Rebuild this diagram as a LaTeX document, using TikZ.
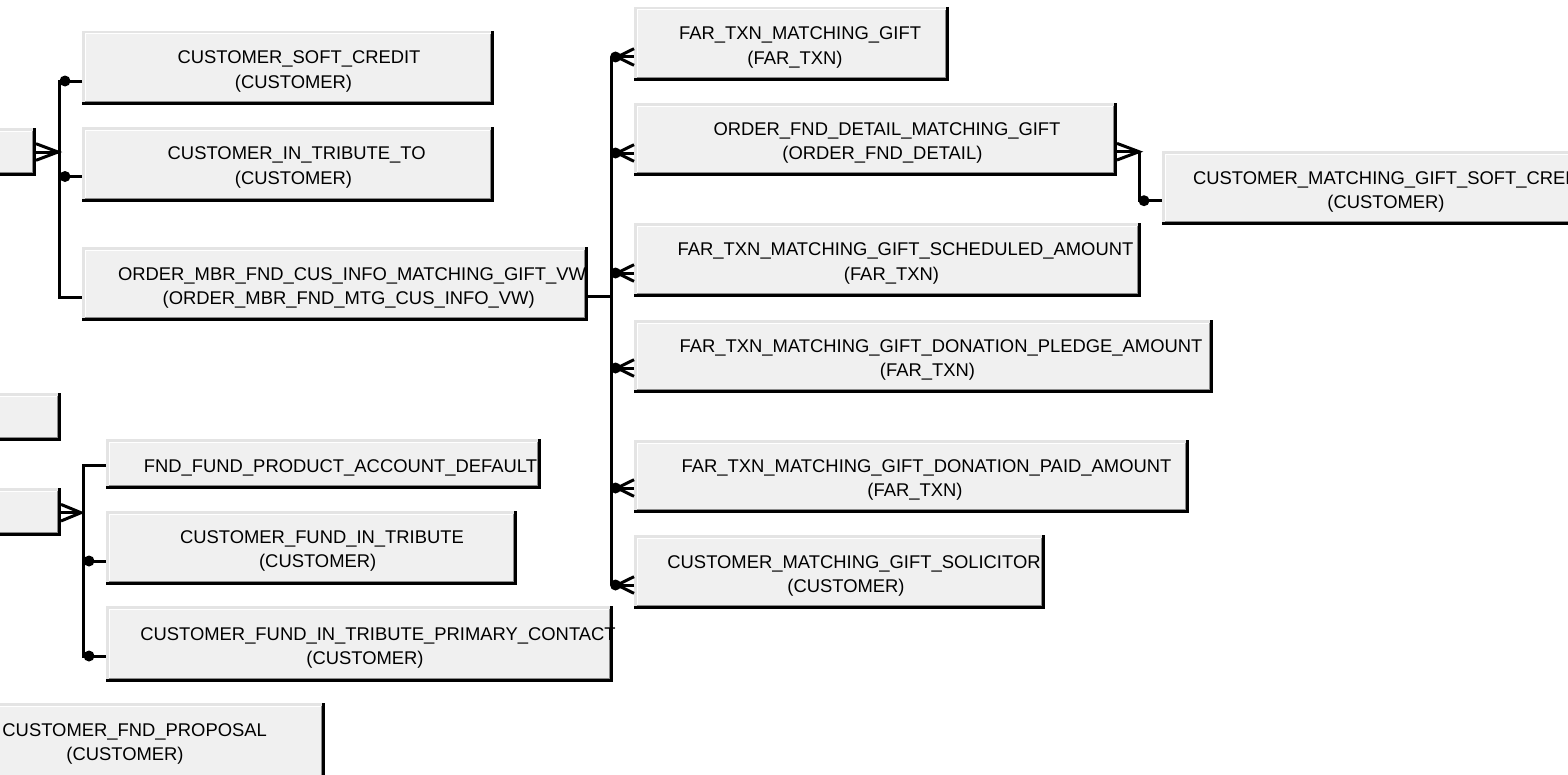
\documentclass[tikz,border=0pt]{standalone}
\usepackage{fontspec}
\setmainfont{Liberation Sans}
\usetikzlibrary{fit}
\definecolor{boxfill}{HTML}{F0F0F0}
\definecolor{boxhl}{HTML}{E4E4E4}
\definecolor{boxsh}{HTML}{8C8C8C}
\tikzset{
 erbox/.style={rectangle, inner sep=0pt, outer sep=0pt, fill=boxfill, draw=none},
 hlline/.style={draw=boxhl, line width=2.5bp},
 whline/.style={draw=white, line width=1bp},
 shline/.style={draw=black, line width=2.6bp},
 shinner/.style={draw=boxsh, line width=1bp},
 lbl/.style={anchor=base, inner sep=0pt, outer sep=0pt, font=\fontsize{18.4bp}{24bp}\selectfont},
 lblw/.style={lbl, anchor=base west},
 conn/.style={draw=black, line width=3bp},
 dotc/.style={fill=black},
}
\newcommand\erentity[5]{%
 \node[erbox, fit={(#2,#3) (#4,#5)}] (#1) {};
 \draw[hlline] ([xshift=1.25bp]#1.south west) -- ([xshift=1.25bp,yshift=-1.25bp]#1.north west) -- ([yshift=-1.25bp]#1.north east);
 \draw[whline] ([xshift=3bp]#1.south west) -- ([xshift=3bp,yshift=-3bp]#1.north west) -- ([yshift=-3bp,xshift=-3bp]#1.north east);
 \draw[shinner] ([xshift=-3.2bp,yshift=-3bp]#1.north east) -- ([xshift=-3.2bp,yshift=3.2bp]#1.south east) -- ([xshift=3bp,yshift=3.2bp]#1.south west);
 \draw[shline] ([xshift=-1.3bp]#1.north east) -- ([xshift=-1.3bp,yshift=1.3bp]#1.south east) -- ([yshift=1.3bp]#1.south west);
}
\newcommand\crowfoot[2]{%
 \draw[conn] ([yshift=8.3bp]#1) -- (#2) -- ([yshift=-8.3bp]#1);
 \draw[conn] (#1) -- (#2);
}
\begin{document}
\begin{tikzpicture}[x=1bp,y=-1bp]
\useasboundingbox (0,0) rectangle (1568,775);
\clip (0,0) rectangle (1568,775);
\fill[white] (0,0) rectangle (1568,775);

% entities
\erentity{A}{-100}{128}{36}{176}
\erentity{B}{-100}{393}{61}{441}
\erentity{C}{-100}{488}{61}{536}
\erentity{SC}{82}{31}{494}{105}
\erentity{IT}{82}{127}{494}{202}
\erentity{OM}{82}{247}{588}{321}
\erentity{FTa}{634}{7}{949}{81}
\erentity{OFD}{634}{103}{1117}{176}
\erentity{CMGSC}{1162}{151}{1620}{225}
\erentity{FTb}{634}{223}{1141}{297}
\erentity{FTc}{634}{320}{1213}{393}
\erentity{FTd}{634}{440}{1189}{513}
\erentity{CMGS}{634}{535}{1045}{609}
\erentity{FFPAD}{106}{439}{541}{489}
\erentity{CFIT}{106}{511}{517}{585}
\erentity{CFITPC}{106}{606}{613}{682}
\erentity{CFP}{-80}{703}{325}{800}

% labels
\node[lbl] (SCa) at (299,63.9) {CUSTOMER\_SOFT\_CREDIT};
\node[lbl] (SCb) at (293.5,88.2) {(CUSTOMER)};
\node[lbl] (ITa) at (296.7,159.9) {CUSTOMER\_IN\_TRIBUTE\_TO};
\node[lbl] (ITb) at (293.5,184.2) {(CUSTOMER)};
\node[lbl] (OMa) at (352,280.6) {ORDER\_MBR\_FND\_CUS\_INFO\_MATCHING\_GIFT\_VW};
\node[lbl] (OMb) at (348.7,304.9) {(ORDER\_MBR\_FND\_MTG\_CUS\_INFO\_VW)};
\node[lbl] (FTaa) at (800,39.9) {FAR\_TXN\_MATCHING\_GIFT};
\node[lbl] (FTab) at (795,64.2) {(FAR\_TXN)};
\node[lbl] (OFDa) at (887,135.6) {ORDER\_FND\_DETAIL\_MATCHING\_GIFT};
\node[lbl] (OFDb) at (882.4,159.9) {(ORDER\_FND\_DETAIL)};
\node[lblw] (CMGSCa) at (1193,184.6) {CUSTOMER\_MATCHING\_GIFT\_SOFT\_CREDIT};
\node[lbl] (CMGSCb) at (1386,208.9) {(CUSTOMER)};
\node[lbl] (FTba) at (905.5,255.9) {FAR\_TXN\_MATCHING\_GIFT\_SCHEDULED\_AMOUNT};
\node[lbl] (FTbb) at (891.4,280.2) {(FAR\_TXN)};
\node[lbl] (FTca) at (941,352.6) {FAR\_TXN\_MATCHING\_GIFT\_DONATION\_PLEDGE\_AMOUNT};
\node[lbl] (FTcb) at (927.5,376.9) {(FAR\_TXN)};
\node[lbl] (FTda) at (926.5,472.3) {FAR\_TXN\_MATCHING\_GIFT\_DONATION\_PAID\_AMOUNT};
\node[lbl] (FTdb) at (915,496.6) {(FAR\_TXN)};
\node[lbl] (CMGSa) at (854,568.3) {CUSTOMER\_MATCHING\_GIFT\_SOLICITOR};
\node[lbl] (CMGSb) at (846,592.6) {(CUSTOMER)};
\node[lbl] (FFPADa) at (340.5,472.6) {FND\_FUND\_PRODUCT\_ACCOUNT\_DEFAULT};
\node[lbl] (CFITa) at (322,543.6) {CUSTOMER\_FUND\_IN\_TRIBUTE};
\node[lbl] (CFITb) at (317.7,567.9) {(CUSTOMER)};
\node[lbl] (CFITPCa) at (378,640.6) {CUSTOMER\_FUND\_IN\_TRIBUTE\_PRIMARY\_CONTACT};
\node[lbl] (CFITPCb) at (365,664.9) {(CUSTOMER)};
\node[lbl] (CFPa) at (134.7,736.6) {CUSTOMER\_FND\_PROPOSAL};
\node[lbl] (CFPb) at (125,760.9) {(CUSTOMER)};

% left group
\coordinate (vL1) at (59.5,81);
\coordinate (vL2) at (59.5,297);
\coordinate (vL3) at (59.5,176.5);
\draw[conn] (SC.west |- vL1) -- (vL1) -- (vL2) -- (OM.west |- vL2);
\draw[conn] (vL3) -- (IT.west |- vL3);
\fill[dotc] (65,81) circle (5.5bp);
\fill[dotc] (65,176.5) circle (5.5bp);
\coordinate (apA) at (58,152);
\coordinate (eA) at (A.east |- apA);
\crowfoot{eA}{apA}

% fund group
\coordinate (vF1) at (83,465);
\coordinate (vF2) at (83,656);
\coordinate (vF3) at (83,561);
\draw[conn] (FFPAD.west |- vF1) -- (vF1) -- (vF2) -- (CFITPC.west |- vF2);
\draw[conn] (vF3) -- (CFIT.west |- vF3);
\fill[dotc] (89,561) circle (5.5bp);
\fill[dotc] (89,656) circle (5.5bp);
\coordinate (apC) at (81,512.7);
\coordinate (eC) at (C.east |- apC);
\crowfoot{eC}{apC}

% main group
\coordinate (m0) at (611,296.5);
\coordinate (mTop) at (611,57);
\coordinate (mBot) at (611,585);
\draw[conn] (OM.east |- m0) -- (m0);
\draw[conn] (mTop) -- (mBot);
\foreach \yy/\bx in {57/FTa,153/OFD,273/FTb,368/FTc,488/FTd,585/CMGS}{
  \fill[dotc] (615.5,\yy) circle (5.5bp);
  \coordinate (ap\bx) at (617,\yy);
  \coordinate (e\bx) at (\bx.west |- ap\bx);
  \crowfoot{e\bx}{ap\bx}
}

% right group
\coordinate (apR) at (1139,151.7);
\coordinate (eR) at (OFD.east |- apR);
\coordinate (vR) at (1139,200.7);
\crowfoot{eR}{apR}
\draw[conn] (apR) -- (vR) -- (CMGSC.west |- vR);
\fill[dotc] (1144,200.7) circle (5.5bp);
\end{tikzpicture}
\end{document}
